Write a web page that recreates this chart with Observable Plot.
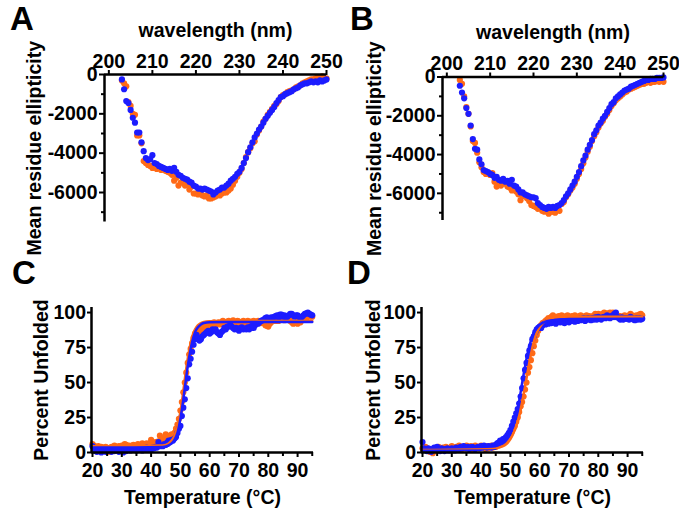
<!DOCTYPE html>
<html><head><meta charset="utf-8">
<script src="https://cdn.jsdelivr.net/npm/d3@7"></script>
<script src="https://cdn.jsdelivr.net/npm/@observablehq/plot@0.6"></script>
<style>
body{margin:0;background:#fff;}
#fig{position:relative;width:679px;height:510px;background:#fff;font-family:"Liberation Sans",Arial,sans-serif;overflow:hidden;}
.panel{position:absolute;}
.panel svg{overflow:visible;}
.letter{position:absolute;font-weight:bold;font-size:33px;line-height:1;color:#000;}
</style></head><body><div id="fig"></div>
<script>
const ORANGE = "#ff6a17";
const BLUE = "#1c1cff";

// wavelength grid (nm) and temperature grid (°C)
const wavelengths = d3.range(203, 250.25, 0.5);
const temperatures = d3.range(20, 95.25, 0.5);

// Panel A: mean residue ellipticity
const specA_orange = [
 -300,-450,-600,-1400,-1600,-2000,-2050,-3100,-3100,-3500,
 -4400,-4500,-4600,-4650,-4750,-4700,-4800,-4750,-4850,-4800,
 -4900,-4950,-5000,-5100,-5400,-5250,-5650,-5500,-5400,-5650,
 -5600,-5850,-5700,-6050,-6050,-6100,-6000,-6150,-6200,-6150,
 -6300,-6300,-6250,-6200,-6100,-6150,-6050,-6000,-6000,-5900,
 -5800,-5600,-5400,-5200,-5000,-4800,-4500,-4200,-3950,-3750,
 -3500,-3400,-3050,-2850,-2650,-2400,-2250,-2050,-1900,-1750,
 -1600,-1500,-1350,-1150,-1050,-1000,-900,-850,-800,-750,
 -650,-600,-550,-450,-400,-350,-300,-250,-250,-200,
 -150,-200,-100,-200,-200];
const specA_blue = [
 -250,-750,-1350,-1450,-1800,-2200,-2450,-2950,-2950,-3450,
 -3900,-4250,-4350,-4300,-4100,-4500,-4550,-4650,-4700,-4750,
 -4800,-4850,-4800,-4900,-4750,-4950,-5100,-5150,-5250,-5300,
 -5350,-5450,-5500,-5650,-5700,-5800,-5800,-5850,-5800,-5850,
 -5900,-5950,-6100,-6000,-5900,-5850,-5750,-5750,-5650,-5550,
 -5400,-5300,-5200,-5050,-4950,-4750,-4500,-4250,-3950,-3700,
 -3450,-3200,-3000,-2800,-2650,-2450,-2250,-2100,-1950,-1800,
 -1650,-1450,-1300,-1150,-1100,-1000,-950,-900,-850,-750,
 -700,-650,-550,-500,-450,-450,-400,-350,-400,-350,
 -400,-300,-350,-300,-250];

// Panel B
const specB_orange = [
 -150,-350,-1000,-1550,-1900,-2550,-3300,-3400,-3900,-4400,
 -4650,-4900,-5000,-4950,-5050,-4950,-5400,-5650,-5500,-5600,
 -5450,-5500,-5650,-5700,-5850,-5800,-5900,-6050,-6350,-6150,
 -6100,-6250,-6400,-6600,-6650,-6700,-6800,-6750,-6900,-6950,
 -6900,-7050,-6950,-6950,-7000,-6850,-6900,-6550,-6450,-6200,
 -6050,-5850,-5700,-5500,-5250,-5000,-4750,-4450,-4150,-3850,
 -3600,-3300,-3050,-2850,-2600,-2400,-2250,-2050,-1900,-1700,
 -1500,-1350,-1200,-1100,-1000,-900,-800,-750,-650,-600,
 -550,-500,-450,-400,-350,-350,-300,-250,-300,-250,
 -250,-200,-250,-200,-250];
const specB_blue = [
 -450,-800,-1100,-1600,-1900,-2500,-3200,-3700,-3750,-4250,
 -4500,-4800,-4850,-4900,-5000,-5050,-5200,-5150,-5300,-5350,
 -5250,-5400,-5350,-5500,-5300,-5600,-5650,-5800,-5950,-5950,
 -6050,-6100,-6150,-6200,-6200,-6250,-6500,-6600,-6700,-6750,
 -6800,-6700,-6750,-6700,-6750,-6650,-6600,-6500,-6350,-6150,
 -6000,-5800,-5600,-5400,-5150,-4900,-4600,-4300,-4050,-3750,
 -3500,-3250,-2950,-2750,-2500,-2350,-2150,-2000,-1800,-1600,
 -1400,-1300,-1100,-1000,-900,-800,-700,-650,-600,-500,
 -450,-400,-350,-300,-250,-200,-150,-150,-100,-100,
 -100,-50,-50,-50,-20];

// Panel C: percent unfolded
const meltC_orange = [
 6,5,4,3.5,4.5,3,4,3.5,2,4,
 0.5,3,0.5,4,3.5,5,4,3,4.5,3.5,
 5,4,6,5.5,4.5,5,3.5,5,5.5,4,
 5,6,5,4.5,6.5,5.5,6,6.5,5,6,
 9,7,6.5,7.5,7,8,12,9,10,8.5,
 13,12,10,11,13,12,14,17,20,24,
 30,36,43,50,57,64,70,74,78,82,
 85,86,87,89,86,88,90,91,90,92,
 91,90,92,93,91,92,93,91.5,93,94,
 93,92,93.5,94,92,93,94.5,93,92.5,94,
 93.5,92,93,94,92.5,93,94,92,93.5,93,
 94,92.5,93,94,93,92.5,94,93,91,90.5,
 90,92,93,94,95,94,95.5,94,96,95,
 96,94.5,95,96,95,94,93,92,92.5,93,
 92,94,93,95,96,97,96,98,97,98,
 97];
const meltC_blue = [
 4.5,3,1,0.5,2,1,0,1.5,2,0.5,
 1,2.5,1.5,0.5,2,1,3,1.5,0.5,2,
 1,0,2.5,1,3,2,1.5,3,2,2.5,
 1.5,3,2,2.5,1.5,3,2,3.5,2.5,3,
 2,3.5,3,4,3.5,7.5,4.5,5,4.5,6,
 5.5,7,8.5,7.5,9,8.5,10,11,14,17,
 19,26,32,38,46,53,63,67,72,77,
 81,84,82,80,81,83,84,85,86,87,
 85,86,88,87,88,86,85,84,86,87,
 89,88,90,90,91,90,89,88,89,88,
 87,89,89.5,88,88.5,88,89.5,88,90,90.5,
 89,91,92,92,93,94,94.5,95,96,96.5,
 95.5,96,96.5,96,97,97.5,98,96.5,98.5,98.5,
 97,98,96.5,97,98,99,99,98,97,98,
 98,97,96,97,98,99,99.5,100,99,98.5,
 98];
const fitC_T = [20,44,46,47,48,49,50,51,52,53,54,55,56,57,58,60,65,95];
const fitC_orange = [4.5,5,6.5,8.5,12,18,29,44,60,73,82.5,88,91,92.5,93.3,93.7,93.9,93.9];
const fitC_blue = [3.5,4,5,6.5,9,14,24,38,54,68,79,86,89.5,91.5,92.5,93,93.2,93.2];

// Panel D
const meltD_orange = [
 3,2,4,3,1,0.5,2,-0.5,1,3,
 2,4,3,2,3.5,2.5,4,3,2,3.5,
 4.5,3,2,4,3,5,3.5,2.5,4,3,
 5,4,3,4.5,2.5,3.5,5,4,3,4,
 5,3.5,4,2.5,4.5,3,4,5,3.5,5,
 4,5.5,5,6,6.5,7,7.5,8.5,10,11,
 13,15,17,19,22,25,29,33,36,40,
 45,50,57,61,66,71,76,80,84,87,
 89,91,92.5,93,94,95,96,95.5,97,98,
 96.5,97,96,97.5,96.5,98,97,96.5,97.5,98,
 97,96.5,97.5,97,98,97,96,97.5,98,97,
 96.5,97.5,98,97,97.5,96.5,97,98,99,98,
 99,98.5,97.5,99,100,98.5,99.5,98,100,99,
 100,98,99,98,97,97.5,96.5,97,98,97.5,
 97,98,99,98,97,97.5,98,97,98.5,99,
 98];
const meltD_blue = [
 7.5,3,2,1,3,1.5,0.5,2,3.5,2,
 4,2.5,1,3,2,1,2.5,3,1.5,2,
 3,2,1.5,3.5,3,2.5,4,3,4.5,3.5,
 3,4,2.5,3.5,4,3,2.5,3.5,4,3,
 4.5,3.5,5,4,3.5,4.5,4,3.5,5,4,
 5.5,6.5,7,8.5,8,9.5,10,11,12.5,14,
 16,19,22,25,28,31,35,40,46,53,
 59,64,69,73,76,81,83,86,88,89,
 90,89,91,92,91.5,93,92,93.5,92.5,93,
 94,92,93.5,94,93,94.5,93,92.5,94,95,
 93,94,95,94,93.5,95,94,95.5,94.5,95,
 96,94,95,96,95,94.5,96,95,96.5,95,
 97,96,95,96.5,97,96,98,97,96,97.5,
 98,99,100,97,96,95,96.5,95,96,95.5,
 96,95,97,96,95,94.5,96,95,96,95,
 95.5];
const fitD_T = [20,44,46,48,49,50,51,52,53,54,55,56,57,58,59,60,61,62,64,67,70,95];
const fitD_orange = [3,3.3,3.6,5,6.7,9.5,13.5,19,26,36,47,59,70,79,85.5,89.5,92.3,94,96,96.8,97,97];
const fitD_blue = [3.5,4.2,5.3,7.5,10,14,19.5,27,37,49.5,61.5,72,80,85.5,89,91.3,92.6,93.5,94.4,95,95.3,95.5];

// tick values
const specXTicks = [200,210,220,230,240,250];
const specYTicks = [0,-2000,-4000,-6000];
const specYMinor = [-1000,-3000,-5000,-7000];
const meltXTicks = [20,30,40,50,60,70,80,90];
const meltXMinor = [25,35,45,55,65,75,85,95];
const meltYTicks = [0,25,50,75,100];

const TICK_FS = 19.5;
const TITLE_FS = 19.5;
const fmt = d => String(d);
const baseStyle = {fontFamily:"'Liberation Sans', Arial, sans-serif", fontWeight:"bold", fontSize:"19px", color:"#000", background:"transparent", overflow:"visible"};
const pts = (xs, ys) => xs.map((x, i) => ({x, y: ys[i]}));

function specPanel(orange, blue, m) {
  return Plot.plot({
    width: m.width, height: 240,
    marginLeft: m.left, marginRight: m.right, marginTop: m.top, marginBottom: m.bottom,
    x: {domain: [199, 250]},
    y: {domain: [m.ymin, 0]},
    style: baseStyle,
    marks: [
      Plot.dot(pts(wavelengths, orange), {x:"x", y:"y", r:3.1, fill:ORANGE}),
      Plot.dot(pts(wavelengths, blue), {x:"x", y:"y", r:3.1, fill:BLUE}),
      Plot.ruleY([0], {strokeWidth:2.5}),
      Plot.ruleX([199], {strokeWidth:2.5}),
      Plot.axisX(specXTicks, {anchor:"top", tickSize:5, tickPadding:2, strokeWidth:2, tickFormat:fmt, label:null, fontSize:TICK_FS}),
      Plot.axisY(specYTicks, {anchor:"left", tickSize:5, tickPadding:2, strokeWidth:2, tickFormat:fmt, label:null, fontSize:TICK_FS}),
      Plot.axisY(specYMinor, {anchor:"left", tickSize:3, strokeWidth:2, tickFormat:() => "", label:null}),
      Plot.text(["wavelength (nm)"], {text:d=>d, frameAnchor:"top", textAnchor:"middle", dy:-44, lineAnchor:"middle", fontSize:TITLE_FS, fontWeight:"bold"}),
      Plot.text(["Mean residue ellipticity"], {text:d=>d, frameAnchor:"left", textAnchor:"middle", rotate:-90, dx:m.ldx, lineAnchor:"middle", fontSize:TITLE_FS, fontWeight:"bold"})
    ]
  });
}

function meltPanel(orange, blue, fitT, fitO, fitB, m) {
  return Plot.plot({
    width: m.width, height: 255,
    marginLeft: m.left, marginRight: m.right, marginTop: 52, marginBottom: 58,
    x: {domain: [19.66, 95.43]},
    y: {domain: [0, 103.6]},
    style: baseStyle,
    marks: [
      Plot.dot(pts(temperatures, orange), {x:"x", y:"y", r:3.1, fill:ORANGE}),
      Plot.dot(pts(temperatures, blue), {x:"x", y:"y", r:3.1, fill:BLUE}),
      Plot.line(pts(fitT, fitO), {x:"x", y:"y", stroke:ORANGE, strokeWidth:2.5, curve:"monotone-x"}),
      Plot.line(pts(fitT, fitB), {x:"x", y:"y", stroke:BLUE, strokeWidth:2.5, curve:"monotone-x"}),
      Plot.ruleY([0], {strokeWidth:2.5}),
      Plot.ruleX([19.66], {strokeWidth:2.5}),
      Plot.axisX(meltXTicks, {anchor:"bottom", tickSize:5, tickPadding:6, strokeWidth:2, tickFormat:fmt, label:null, fontSize:TICK_FS}),
      Plot.axisX(meltXMinor, {anchor:"bottom", tickSize:4, strokeWidth:2, tickFormat:() => "", label:null}),
      Plot.axisY(meltYTicks, {anchor:"left", tickSize:4, tickPadding:1.5, strokeWidth:2, tickFormat:fmt, label:null, fontSize:TICK_FS}),
      Plot.text(["Temperature (°C)"], {text:d=>d, frameAnchor:"bottom", textAnchor:"middle", dy:45, lineAnchor:"middle", fontSize:TITLE_FS, fontWeight:"bold"}),
      Plot.text(["Percent Unfolded"], {text:d=>d, frameAnchor:"left", textAnchor:"middle", rotate:-90, dx:m.ldx, lineAnchor:"middle", fontSize:TITLE_FS, fontWeight:"bold"})
    ]
  });
}

const fig = document.getElementById("fig");
function place(node, left, top) {
  const d = document.createElement("div");
  d.className = "panel";
  d.style.left = left + "px"; d.style.top = top + "px";
  d.appendChild(node);
  fig.appendChild(d);
}
place(specPanel(specA_orange, specA_blue, {width:340, left:104, right:14, top:74, bottom:18.5, ymin:-7500, ldx:-69.5}), 0, 0);
place(specPanel(specB_orange, specB_blue, {width:339, left:102, right:16, top:76.5, bottom:20, ymin:-7400, ldx:-67.5}), 340, 0);
place(meltPanel(meltC_orange, meltC_blue, fitC_T, fitC_orange, fitC_blue, {width:340, left:91, right:27, ldx:-49.5}), 0, 255);
place(meltPanel(meltD_orange, meltD_blue, fitD_T, fitD_orange, fitD_blue, {width:339, left:81, right:36, ldx:-47.5}), 340, 255);

const letters = [["A",10,2],["B",350,2],["C",12,256],["D",347,256]];
for (const [t,x,y] of letters) {
  const d = document.createElement("div");
  d.className = "letter"; d.textContent = t;
  d.style.left = x + "px"; d.style.top = y + "px";
  fig.appendChild(d);
}
</script></body></html>
